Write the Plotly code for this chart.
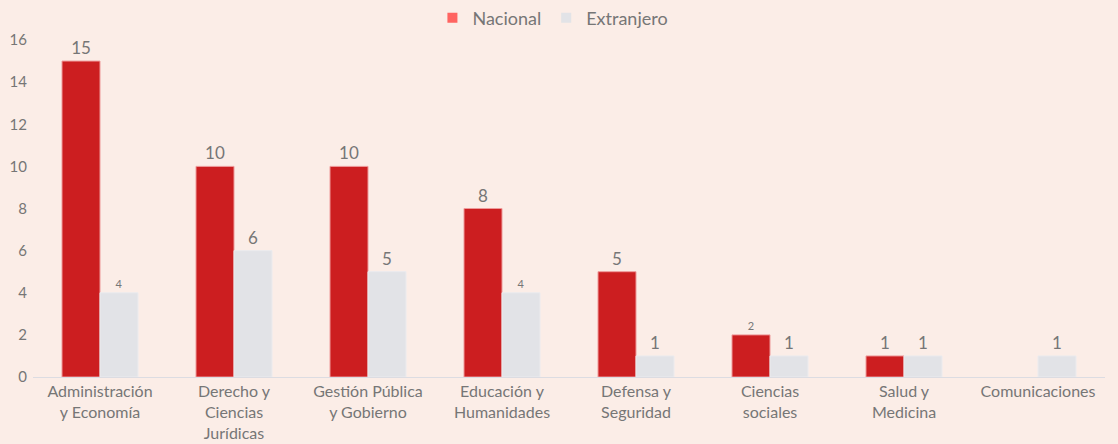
import plotly.graph_objects as go

categories = [
    "Administración<br>y Economía",
    "Derecho y<br>Ciencias<br>Jurídicas",
    "Gestión Pública<br>y Gobierno",
    "Educación y<br>Humanidades",
    "Defensa y<br>Seguridad",
    "Ciencias<br>sociales",
    "Salud y<br>Medicina",
    "Comunicaciones",
]
nacional = [15, 10, 10, 8, 5, 2, 1, None]
extranjero = [4, 6, 5, 4, 1, 1, 1, 1]
nacional_label_size = [17, 17, 17, 17, 17, 11, 17, 17]
extranjero_label_size = [11, 17, 17, 11, 17, 17, 17, 17]
y_ticks = [0, 2, 4, 6, 8, 10, 12, 14, 16]

TEXT = "#767676"
BG = "#FBEDE7"
RED = "#CC1E20"
GREY = "#E2E3E7"

fig = go.Figure()
fig.add_trace(go.Bar(
    x=categories, y=nacional, name="Nacional", showlegend=False,
    marker=dict(color=RED, line=dict(color="#EE9A9A", width=1)),
    text=[("" if v is None else str(v)) for v in nacional],
    textposition="outside", cliponaxis=False,
    textfont=dict(size=nacional_label_size, color=TEXT, family="Lato"),
))
fig.add_trace(go.Bar(
    x=categories, y=extranjero, name="Extranjero", showlegend=False,
    marker=dict(color=GREY, line=dict(color="#EBEBEE", width=1)),
    text=[str(v) for v in extranjero],
    textposition="outside", cliponaxis=False,
    textfont=dict(size=extranjero_label_size, color=TEXT, family="Lato"),
))
# legend swatches
fig.add_trace(go.Scatter(x=[None], y=[None], mode="markers", name="Nacional",
                         marker=dict(symbol="square", size=10, color="#FF6461")))
fig.add_trace(go.Scatter(x=[None], y=[None], mode="markers", name="Extranjero",
                         marker=dict(symbol="square", size=10, color="#E2E3E7")))

fig.update_layout(
    width=1118, height=444,
    paper_bgcolor=BG, plot_bgcolor=BG,
    margin=dict(l=33, r=13, t=40, b=67, autoexpand=False),
    barmode="group", bargap=0.433, bargroupgap=0,
    font=dict(family="Lato", color=TEXT, size=16),
    legend=dict(orientation="h", x=0.485, xanchor="center", y=1.065, yanchor="middle",
                font=dict(size=18, color=TEXT), itemwidth=30, tracegroupgap=0,
                bgcolor="rgba(0,0,0,0)"),
    xaxis=dict(showline=True, linecolor="#DCDCE2", linewidth=1, showgrid=False,
               tickfont=dict(size=16, color=TEXT), ticks="", zeroline=False,
               automargin=False),
    yaxis=dict(range=[0, 16], tickvals=y_ticks, showgrid=False, zeroline=False,
               showline=False, tickfont=dict(size=15, color=TEXT), ticks="",
               ticklabelstandoff=5, automargin=False),
)

fig.write_html("out.html", config={"displayModeBar": False},
               post_script="document.body.style.margin='0';")
